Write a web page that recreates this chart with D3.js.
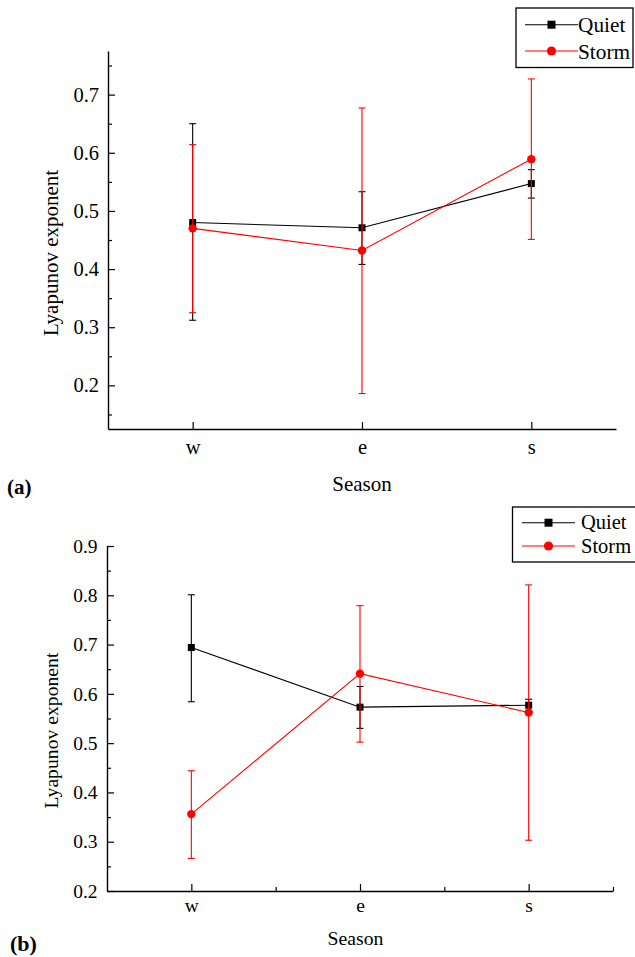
<!DOCTYPE html>
<html>
<head>
<meta charset="utf-8">
<script src="https://cdn.jsdelivr.net/npm/d3@7/dist/d3.min.js"></script>
<style>
  html, body { margin: 0; padding: 0; background: #fff; }
  svg { display: block; }
  text { font-family: "Liberation Serif", "Times New Roman", serif; fill: #000; }
</style>
</head>
<body>
<svg id="chart" width="635" height="957"></svg>
<script>

// categories on the x axis
var seasons = ["w", "e", "s"];

// tick labels
var yTicksA = [0.2, 0.3, 0.4, 0.5, 0.6, 0.7];
var yMinorA = [0.15, 0.25, 0.35, 0.45, 0.55, 0.65, 0.75];
var yTicksB = [0.2, 0.3, 0.4, 0.5, 0.6, 0.7, 0.8, 0.9];
var yMinorB = [0.25, 0.35, 0.45, 0.55, 0.65, 0.75, 0.85];

// panel (a)
var quietA = [0.480, 0.471, 0.547];
var quietALow = [0.312, 0.408, 0.522];
var quietAHigh = [0.650, 0.533, 0.571];
var stormA = [0.470, 0.432, 0.589];
var stormALow = [0.325, 0.186, 0.451];
var stormAHigh = [0.614, 0.677, 0.727];

// panel (b)
var quietB = [0.694, 0.573, 0.577];
var quietBLow = [0.584, 0.530, 0.563];
var quietBHigh = [0.801, 0.615, 0.589];
var stormB = [0.356, 0.641, 0.562];
var stormBLow = [0.266, 0.502, 0.303];
var stormBHigh = [0.444, 0.779, 0.821];

var svg = d3.select("#chart");

var drawPanel = function(p) {

  var g = svg.append("g");

  var x = d3.scaleLinear().domain([0.5, 3.5]).range([p.left, p.right]);
  var y = d3.scaleLinear().domain(p.yDomain).range([p.bottom, p.top]);

  /* axes, ticks pointing inward */
  var yAxis = g.append("g")
    .attr("transform", "translate(" + p.left + ",0)")
    .call(d3.axisLeft(y).tickValues(p.yTicks).tickFormat(d3.format(".1f"))
      .tickSizeInner(-7).tickSizeOuter(0).tickPadding(p.tickPad));

  g.append("g")
    .attr("transform", "translate(" + p.left + ",0)")
    .call(d3.axisLeft(y).tickValues(p.yMinor).tickFormat("")
      .tickSizeInner(-4).tickSizeOuter(0))
    .select(".domain").remove();

  var xAxis = g.append("g")
    .attr("transform", "translate(0," + p.bottom + ")")
    .call(d3.axisBottom(x).tickValues([1, 2, 3]).tickFormat(function(d) { return seasons[d - 1]; })
      .tickSizeInner(-7).tickSizeOuter(0).tickPadding(p.xPad));

  if (p.xMinor) {
    g.append("g")
      .attr("transform", "translate(0," + p.bottom + ")")
      .call(d3.axisBottom(x).tickValues(p.xMinor).tickFormat("")
        .tickSizeInner(-4).tickSizeOuter(0))
      .select(".domain").remove();
  }

  g.selectAll(".domain").attr("stroke", "#000").attr("stroke-width", 1.4);
  g.selectAll(".tick line").attr("stroke", "#000").attr("stroke-width", 1.2);
  g.selectAll(".tick text").attr("font-family", "Liberation Serif").attr("font-size", p.fs).attr("fill", "#000");

  // axis titles
  g.append("text")
    .attr("transform", "translate(" + p.yTitleX + "," + ((p.top + p.bottom) / 2 + p.yTitleShift) + ") rotate(-90)")
    .attr("text-anchor", "middle")
    .attr("font-size", p.titleFs)
    .text("Lyapunov exponent");

  g.append("text")
    .attr("x", p.xTitleX)
    .attr("y", p.xTitleY)
    .attr("text-anchor", "middle")
    .attr("font-size", p.titleFs)
    .text("Season");

  g.append("text")
    .attr("x", p.tagX)
    .attr("y", p.tagY)
    .attr("font-size", p.tagFs)
    .attr("font-weight", "bold")
    .text(p.tag);

  /* series */
  var line = d3.line()
    .x(function(d, i) { return x(i + 1); })
    .y(function(d) { return y(d); });

  p.series.forEach(function(s) {

    g.append("path")
      .datum(s.values)
      .attr("d", line)
      .attr("fill", "none")
      .attr("stroke", s.color)
      .attr("stroke-width", 1.1);

    var bars = g.append("g").attr("stroke", s.color).attr("stroke-width", 1.1);
    s.values.forEach(function(v, i) {
      var cx = x(i + 1);
      bars.append("line").attr("x1", cx).attr("x2", cx).attr("y1", y(s.low[i])).attr("y2", y(s.high[i]));
      bars.append("line").attr("x1", cx - 3.5).attr("x2", cx + 3.5).attr("y1", y(s.low[i])).attr("y2", y(s.low[i]));
      bars.append("line").attr("x1", cx - 3.5).attr("x2", cx + 3.5).attr("y1", y(s.high[i])).attr("y2", y(s.high[i]));
    });

    var marks = g.append("g").attr("fill", s.color);
    s.values.forEach(function(v, i) {
      if (s.shape == "square") {
        marks.append("rect").attr("x", x(i + 1) - 3.5).attr("y", y(v) - 3.5).attr("width", 7).attr("height", 7);
      } else {
        marks.append("circle").attr("cx", x(i + 1)).attr("cy", y(v)).attr("r", 4.2);
      }
    });

  });

  /* legend */
  var L = p.legend;
  g.append("rect")
    .attr("x", L.x).attr("y", L.y).attr("width", L.w).attr("height", L.h)
    .attr("fill", "#fff").attr("stroke", "#000").attr("stroke-width", 1.3);

  p.series.forEach(function(s, k) {
    var ry = L.rows[k];
    g.append("line")
      .attr("x1", L.lineX1).attr("x2", L.lineX2).attr("y1", ry).attr("y2", ry)
      .attr("stroke", s.color).attr("stroke-width", 1.1);
    var mx = (L.lineX1 + L.lineX2) / 2;
    if (s.shape == "square") {
      g.append("rect").attr("x", mx - 4).attr("y", ry - 4).attr("width", 8).attr("height", 8).attr("fill", s.color);
    } else {
      g.append("circle").attr("cx", mx).attr("cy", ry).attr("r", 4.6).attr("fill", s.color);
    }
    g.append("text")
      .attr("x", L.textX).attr("y", ry + L.baseShift)
      .attr("font-size", L.fs)
      .text(s.name);
  });

}

drawPanel({
  left: 108, right: 616, top: 51, bottom: 429,
  yDomain: [0.125, 0.775], yTicks: yTicksA, yMinor: yMinorA, xMinor: null,
  tickPad: 9, xPad: 10, fs: 20.5, titleFs: 21,
  yTitleX: 58, yTitleShift: 13, xTitleX: 362, xTitleY: 490.5,
  tag: "(a)", tagX: 7, tagY: 494, tagFs: 21,
  series: [
    { name: "Quiet", color: "#000", shape: "square", values: quietA, low: quietALow, high: quietAHigh },
    { name: "Storm", color: "#ff0000", shape: "circle", values: stormA, low: stormALow, high: stormAHigh }
  ],
  legend: { x: 516, y: 8, w: 117, h: 59.5, rows: [24.7, 51], lineX1: 525, lineX2: 578, textX: 578, baseShift: 7.5, fs: 21.3 }
});

drawPanel({
  left: 107, right: 613, top: 546, bottom: 891,
  yDomain: [0.2, 0.9], yTicks: yTicksB, yMinor: yMinorB, xMinor: [1.5, 2.5, 3.5],
  tickPad: 9.5, xPad: 7, fs: 19.5, titleFs: 19.7,
  yTitleX: 57.5, yTitleShift: 12, xTitleX: 355.5, xTitleY: 945,
  tag: "(b)", tagX: 10, tagY: 951, tagFs: 22,
  series: [
    { name: "Quiet", color: "#000", shape: "square", values: quietB, low: quietBLow, high: quietBHigh },
    { name: "Storm", color: "#ff0000", shape: "circle", values: stormB, low: stormBLow, high: stormBHigh }
  ],
  legend: { x: 512.5, y: 507, w: 125, h: 55, rows: [522.7, 546], lineX1: 522, lineX2: 575, textX: 581, baseShift: 6.5, fs: 20.5 }
});

</script>
</body>
</html>
